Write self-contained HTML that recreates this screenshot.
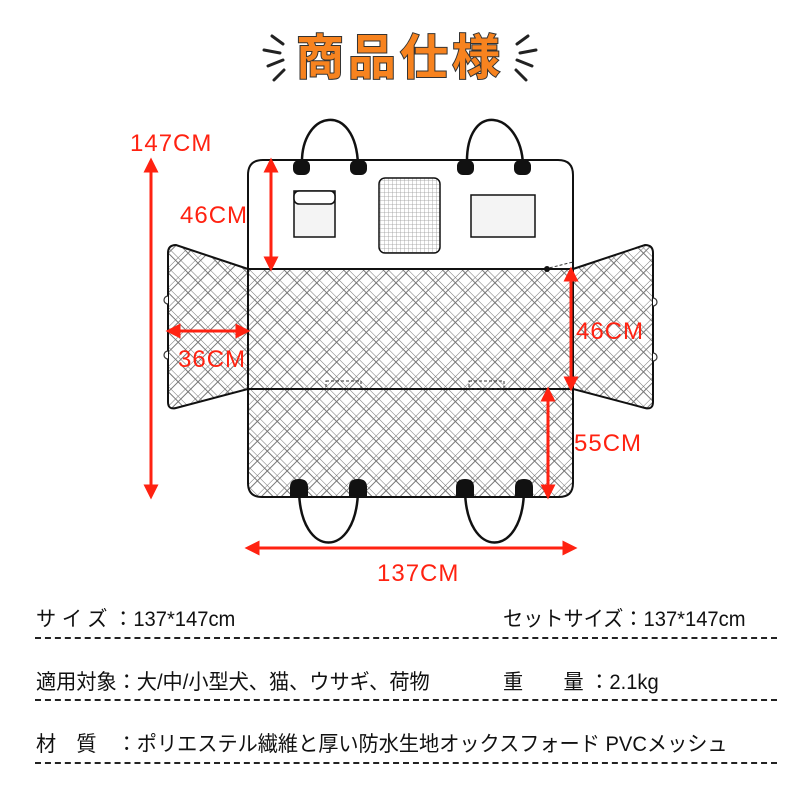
<!DOCTYPE html>
<html><head><meta charset="utf-8"><style>
html,body{margin:0;padding:0;background:#fff;}
body{width:800px;height:800px;position:relative;overflow:hidden;font-family:"Liberation Sans","Noto Sans CJK JP",sans-serif;}
.t{position:absolute;font-size:21px;color:#111;white-space:nowrap;transform-origin:0 0;transform:scaleX(0.96);}
.d{position:absolute;left:35px;width:742px;border-top:2px dashed #222;}
</style></head><body>
<svg width="800" height="800" style="position:absolute;left:0;top:0">
<defs>
<pattern id="h" width="14" height="14" patternUnits="userSpaceOnUse" patternTransform="rotate(45)">
<rect width="14" height="14" fill="#fff"/>
<path d="M0 0V14M4 0V14M0 0H14M0 4H14" stroke="#777" stroke-width="1"/>
</pattern>
<pattern id="m" width="4" height="4" patternUnits="userSpaceOnUse">
<rect width="4" height="4" fill="#fff"/><path d="M0 0H4M0 0V4" stroke="#999" stroke-width="0.8"/>
</pattern>
<marker id="a" viewBox="0 0 10 10" refX="5" refY="5" markerWidth="5" markerHeight="5" orient="auto-start-reverse"><path d="M0 0L10 5L0 10z" fill="#f21"/></marker>
</defs>
<g stroke="#222" stroke-width="3" stroke-linecap="round">
<path d="M272 36L283 44M264 50L280 53M268 66L283 60M274 80L284 70"/>
<path d="M528 36L517 44M536 50L520 53M532 66L517 60M526 80L516 70"/>
</g>
<text x="400" y="74" text-anchor="middle" font-size="48" letter-spacing="4" font-weight="bold" font-family="Noto Sans CJK JP,sans-serif" fill="#f7831f" stroke="#fff" stroke-width="9" stroke-linejoin="round" paint-order="stroke">商品仕様</text>
<text x="400" y="74" text-anchor="middle" font-size="48" letter-spacing="4" font-weight="bold" font-family="Noto Sans CJK JP,sans-serif" fill="#f7831f" stroke="#333" stroke-width="2" paint-order="stroke">商品仕様</text>
<g fill="none" stroke="#111" stroke-width="2.5">
<path d="M302 165C300 110 356 100 358 165"/><path d="M467 165C465 100 521 110 523 165"/>
<path d="M299 490C300 560 357 560 358 490"/><path d="M465 490C466 560 523 560 524 490"/>
</g>
<path d="M248 269L176 245Q168 245 168 253V402Q168 410 176 408L248 389Z" fill="url(#h)" stroke="#111" stroke-width="2"/>
<path d="M573 269L645 245Q653 245 653 253V402Q653 410 645 408L573 389Z" fill="url(#h)" stroke="#111" stroke-width="2"/>
<g fill="#fff" stroke="#333" stroke-width="1.2">
<path d="M168 296a4 4 0 0 0 0 8M168 351a4 4 0 0 0 0 8"/>
<path d="M653 298a4 4 0 0 1 0 8M653 353a4 4 0 0 1 0 8"/>
</g>
<path d="M248 269V175Q248 160 263 160H558Q573 160 573 175V269Z" fill="#fff" stroke="#111" stroke-width="2"/>
<path d="M248 269H573V483Q573 497 559 497H262Q248 497 248 483Z" fill="url(#h)" stroke="#111" stroke-width="2"/>
<line x1="248" y1="389" x2="573" y2="389" stroke="#111" stroke-width="2"/>
<g fill="none" stroke="#333" stroke-width="1" stroke-dasharray="3,2">
<rect x="326" y="381" width="35" height="8"/><rect x="469" y="381" width="35" height="8"/>
<path d="M545 269L573 262"/>
</g>
<circle cx="547" cy="269" r="3" fill="#111"/>
<g fill="#111">
<rect x="293" y="160" width="17" height="15" rx="6"/><rect x="350" y="160" width="17" height="15" rx="6"/>
<rect x="457" y="160" width="17" height="15" rx="6"/><rect x="514" y="160" width="17" height="15" rx="6"/>
<path d="M290 497V487Q290 479 299 479Q308 479 308 487V497Z"/><path d="M349 497V487Q349 479 358 479Q367 479 367 487V497Z"/>
<path d="M456 497V487Q456 479 465 479Q474 479 474 487V497Z"/><path d="M515 497V487Q515 479 524 479Q533 479 533 487V497Z"/>
</g>
<g fill="#f4f4f4" stroke="#111" stroke-width="1.5">
<rect x="294" y="191" width="41" height="46"/><rect x="294" y="191" width="41" height="13" rx="5" fill="#fff"/>
<rect x="379" y="178" width="61" height="75" rx="6" fill="url(#m)"/>
<rect x="471" y="195" width="64" height="42"/>
</g>
<g stroke="#f21" stroke-width="3" marker-start="url(#a)" marker-end="url(#a)">
<line x1="151" y1="165" x2="151" y2="492"/>
<line x1="271" y1="165" x2="271" y2="264"/>
<line x1="173" y1="331" x2="243" y2="331"/>
<line x1="571" y1="274" x2="571" y2="384"/>
<line x1="548" y1="394" x2="548" y2="492"/>
<line x1="252" y1="548" x2="570" y2="548"/>
</g>
<g fill="#f21" font-size="24" font-family="Liberation Sans,sans-serif" letter-spacing="1">
<text x="130" y="151">147CM</text>
<text x="180" y="223">46CM</text>
<text x="178" y="367">36CM</text>
<text x="576" y="339">46CM</text>
<text x="574" y="451">55CM</text>
<text x="377" y="581">137CM</text>
</g>
</svg>
<div class="t" style="left:36px;top:603px"><span style="letter-spacing:6px">サイズ</span>：137*147cm</div>
<div class="t" style="left:503px;top:603px">セットサイズ：137*147cm</div>
<div class="d" style="top:637px"></div>
<div class="t" style="left:36px;top:666px">適用対象：大/中/小型犬、猫、ウサギ、荷物</div>
<div class="t" style="left:503px;top:666px">重　　量 ：2.1kg</div>
<div class="d" style="top:699px"></div>
<div class="t" style="left:36px;top:728px">材　質　：ポリエステル繊維と厚い防水生地オックスフォード PVCメッシュ</div>
<div class="d" style="top:762px"></div>
</body></html>
